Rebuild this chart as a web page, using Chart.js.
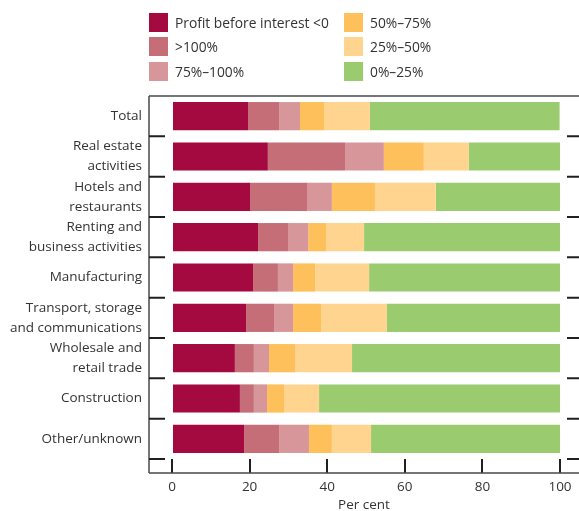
<!DOCTYPE html>
<html><head><meta charset="utf-8">
<script src="https://cdn.jsdelivr.net/npm/chart.js@4/dist/chart.umd.min.js"></script>
<style>
html,body{margin:0;padding:0;background:#fff;overflow:hidden;width:579px;height:511px;}
#wrap{position:relative;width:579px;height:525px;}
#c{position:absolute;left:0;top:0;}
.li{position:absolute;height:19px;display:flex;align-items:center;white-space:nowrap;font-family:'Open Sans',sans-serif;font-size:13.8px;color:#333;}
.sw{width:19px;height:19px;margin-right:7px;flex:none;}
</style></head>
<body><div id="wrap"><canvas id="c"></canvas><div id="legend"></div></div>
<script>
// ---- data ----
const categories = [
  ["Total"],
  ["Real estate","activities"],
  ["Hotels and","restaurants"],
  ["Renting and","business activities"],
  ["Manufacturing"],
  ["Transport, storage","and communications"],
  ["Wholesale and","retail trade"],
  ["Construction"],
  ["Other/unknown"]
];
const seriesNames = ["Profit before interest <0", ">100%", "75%\u2013100%", "50%\u201375%", "25%\u201350%", "0%\u201325%"];
const seriesColors = ["#A4093F", "#C56E77", "#D6969A", "#FDC05B", "#FED48F", "#9ACC6F"];
const profitNegative = [19.6, 24.7, 20.1, 22.2, 20.9, 19.1, 16.2, 17.5, 18.6];
const over100        = [ 8.0, 19.9, 14.7,  7.7,  6.4,  7.2,  4.9,  3.6,  9.0];
const pct75to100     = [ 5.4, 10.0,  6.4,  5.2,  3.9,  4.9,  3.9,  3.4,  7.7];
const pct50to75      = [ 6.2, 10.3, 11.1,  4.6,  5.7,  7.2,  6.7,  4.4,  5.9];
const pct25to50      = [11.8, 11.6, 15.7,  9.8, 13.9, 17.0, 14.7,  9.0, 10.1];
const pct0to25       = [48.9, 23.5, 32.0, 50.5, 49.2, 44.6, 53.6, 62.1, 48.7];
const xTickValues = [0, 20, 40, 60, 80, 100];
const xAxisTitle = "Per cent";

const seriesValues = [profitNegative, over100, pct75to100, pct50to75, pct25to50, pct0to25];

// ---- legend (HTML) ----
const legendPos = [[149,13],[149,37],[149,62],[344,13],[344,37],[344,62]];
const leg = document.getElementById('legend');
seriesNames.forEach((n,i)=>{
  const d = document.createElement('div');
  d.className='li';
  d.style.left = legendPos[i][0]+'px';
  d.style.top = legendPos[i][1]+'px';
  const s = document.createElement('span');
  s.className='sw'; s.style.background = seriesColors[i];
  const t = document.createElement('span'); t.textContent = n;
  d.appendChild(s); d.appendChild(t);
  leg.appendChild(d);
});

const FONT = "'Open Sans', sans-serif";
const frame = {
  id:'frame',
  afterDraw(chart){
    const {ctx, chartArea:a, scales:{y}} = chart;
    const W = chart.width;
    const bottomLine = a.bottom + 14;
    ctx.save();
    ctx.strokeStyle = '#4a4a4a';
    ctx.lineWidth = 1.5;
    ctx.beginPath();
    ctx.moveTo(a.left, a.top); ctx.lineTo(a.left, bottomLine);
    ctx.moveTo(a.left, a.top); ctx.lineTo(W, a.top);
    ctx.moveTo(a.left, bottomLine); ctx.lineTo(W, bottomLine);
    ctx.stroke();
    ctx.strokeStyle = '#231F20';
    ctx.lineWidth = 2;
    ctx.beginPath();
    const n = categories.length;
    for (let i=0;i<n;i++){
      const yb = i<n-1 ? (y.getPixelForValue(i)+y.getPixelForValue(i+1))/2 : a.bottom;
      ctx.moveTo(a.left, yb); ctx.lineTo(a.left+16, yb);
      ctx.moveTo(W-12, yb); ctx.lineTo(W, yb);
    }
    ctx.stroke();
    ctx.restore();
  }
};

const canvas = document.getElementById('c');
canvas.width = 579; canvas.height = 525;
canvas.style.width='579px'; canvas.style.height='525px';

new Chart(canvas, {
  type:'bar',
  data:{
    labels: categories,
    datasets: seriesNames.map((n,i)=>({
      label:n, data:seriesValues[i], backgroundColor:seriesColors[i], borderWidth:0,
      barPercentage:0.7, categoryPercentage:1.0
    }))
  },
  options:{
    indexAxis:'y',
    responsive:false,
    animation:false,
    devicePixelRatio:1,
    layout:{padding:{top:96,left:0,right:0,bottom:0}},
    plugins:{legend:{display:false}, tooltip:{enabled:false}},
    scales:{
      x:{
        type:'linear', stacked:true, min:-5.93, max:104.9,
        afterBuildTicks:(s)=>{ s.ticks = xTickValues.map(v=>({value:v})); },
        afterFit:(s)=>{ s.height = 66; },
        grid:{display:true, drawOnChartArea:false, drawTicks:true, tickLength:14, color:'#231F20', lineWidth:2},
        border:{display:false},
        ticks:{padding:6, color:'#333', font:{family:FONT, size:13.5}, maxRotation:0, autoSkip:false},
        title:{display:true, text:xAxisTitle, color:'#333', font:{family:FONT, size:13.5}, padding:{top:0,bottom:12}}
      },
      y:{
        type:'category', stacked:true,
        afterFit:(s)=>{ s.width = 149; },
        grid:{display:false, drawTicks:false},
        border:{display:false},
        ticks:{padding:7, color:'#333', font:{family:FONT, size:13.5, lineHeight:1.5}, autoSkip:false}
      }
    }
  },
  plugins:[frame]
});
</script>
</body></html>
